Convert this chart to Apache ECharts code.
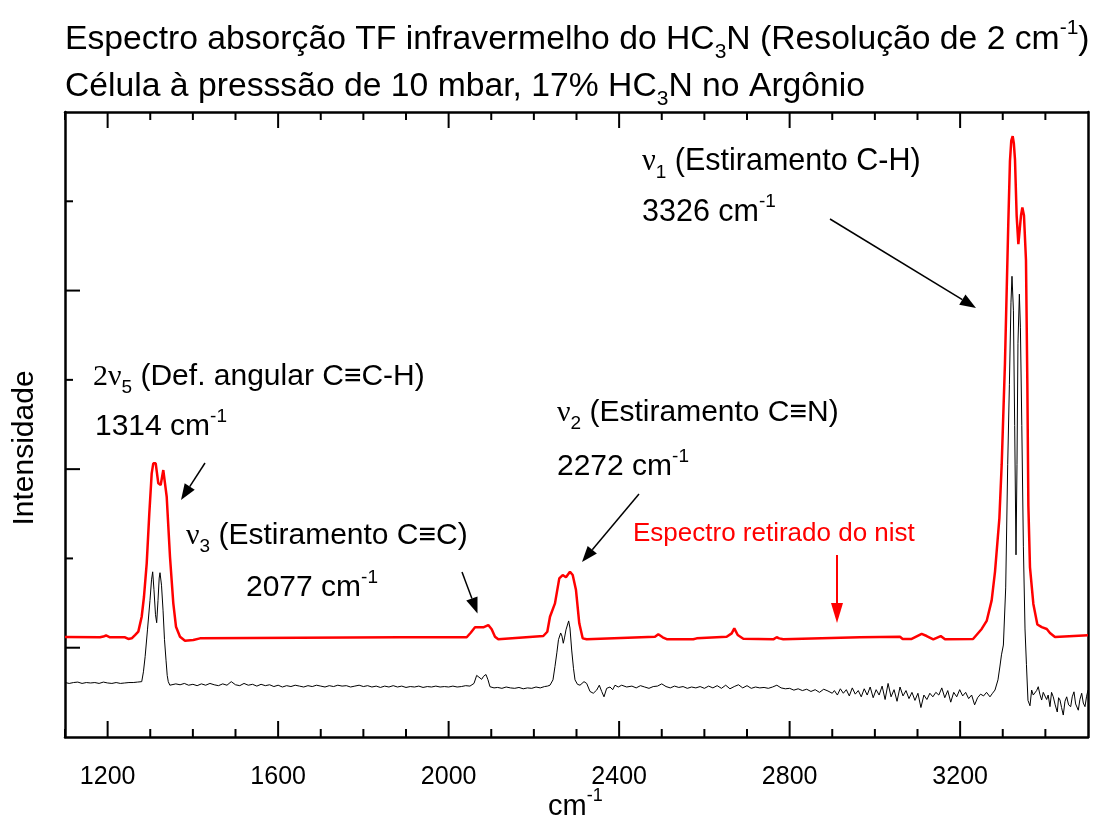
<!DOCTYPE html>
<html><head><meta charset="utf-8">
<script src="https://cdn.jsdelivr.net/npm/echarts@6/dist/echarts.min.js"></script>
<style>html,body{margin:0;padding:0;background:#fff}#c{width:1093px;height:821px}</style>
</head><body><div id="c"></div>
<script>
// ---------- data (wavenumber cm-1, intensity a.u.) ----------
const xTickLabels = [1200, 1600, 2000, 2400, 2800, 3200];
const xMinorTicks = [1100,1300,1400,1500,1700,1800,1900,2100,2200,2300,2500,2600,2700,2900,3000,3100,3300,3400];
const yMajorTicks = [1, 3, 5];
const yMinorTicks = [2, 4, 6];

// measured spectrum (black)
const blackLeft = [[1100,0.61],[1110,0.60],[1120,0.61],[1130,0.615],[1140,0.60],[1150,0.61],[1160,0.605],[1170,0.61],[1180,0.60],[1190,0.615],[1200,0.605],[1210,0.60],[1220,0.61],[1230,0.60],[1240,0.605],[1250,0.61],[1260,0.61],[1270,0.615],[1280,0.62]];
const black1314 = [[1284,0.73],[1288,0.90],[1293.5,1.20],[1299.4,1.53],[1303,1.76],[1305.7,1.85],[1308.7,1.65],[1312.3,1.37],[1315.1,1.28],[1318.2,1.53],[1321,1.78],[1322.9,1.84],[1326.4,1.70],[1330,1.42],[1333.4,1.09],[1337,0.86],[1339.8,0.69],[1342.3,0.62],[1346,0.58]];
const blackMid1 = [[1350,0.58],[1360,0.595],[1370,0.585],[1380,0.60],[1390,0.58],[1400,0.59],[1410,0.575],[1420,0.595],[1430,0.58],[1440,0.60],[1450,0.585],[1460,0.575],[1470,0.595],[1480,0.58],[1490,0.62],[1500,0.585],[1510,0.575],[1520,0.60],[1530,0.58],[1540,0.59],[1550,0.57],[1560,0.59],[1570,0.575],[1580,0.585],[1590,0.565],[1600,0.58],[1610,0.56],[1620,0.575],[1630,0.565],[1640,0.58],[1650,0.57],[1660,0.56],[1670,0.575],[1680,0.565],[1690,0.58],[1700,0.57],[1710,0.56],[1720,0.575],[1730,0.565],[1740,0.58],[1750,0.57],[1760,0.575],[1770,0.56],[1780,0.57],[1790,0.58],[1800,0.565],[1810,0.575],[1820,0.56],[1830,0.57],[1840,0.555],[1850,0.57],[1860,0.56],[1870,0.575],[1880,0.56],[1890,0.57],[1900,0.555],[1910,0.565],[1920,0.56],[1930,0.57],[1940,0.555],[1950,0.565],[1960,0.56],[1970,0.57],[1980,0.56],[1990,0.565],[2000,0.56],[2010,0.57],[2020,0.56],[2030,0.565],[2040,0.575]];
const black2077 = [[2050,0.57],[2059.5,0.60],[2065.8,0.69],[2071.2,0.67],[2077.5,0.646],[2082,0.68],[2087.6,0.70],[2092.4,0.64],[2097,0.563],[2106.5,0.55]];
const blackMid2 = [[2115,0.555],[2125,0.545],[2135,0.56],[2145,0.55],[2155,0.545],[2165,0.555],[2175,0.54],[2185,0.55],[2195,0.545],[2205,0.56],[2215,0.55],[2225,0.565],[2232,0.57]];
const black2272 = [[2237.8,0.58],[2244.8,0.64],[2249.5,0.79],[2254.1,0.95],[2257.7,1.09],[2262.9,1.165],[2265.9,1.13],[2269,1.05],[2271.8,1.11],[2275.3,1.20],[2281.6,1.30],[2284.7,1.22],[2288.7,0.974],[2292.9,0.77],[2296.5,0.64],[2302.3,0.59],[2308.2,0.58]];
const blackMid3 = [[2317.6,0.62],[2323.9,0.60],[2331.7,0.51],[2339.4,0.49],[2347.4,0.526],[2353.5,0.58],[2359.1,0.51],[2364.5,0.45],[2370.8,0.545],[2378.6,0.56],[2384.9,0.53],[2390.3,0.58],[2398,0.56],[2406,0.58],[2417.7,0.56],[2430,0.57],[2440,0.55],[2450,0.575],[2460,0.56],[2470,0.545],[2480,0.565],[2490,0.57],[2500,0.595],[2510,0.565],[2520,0.55],[2530,0.57],[2540,0.555],[2550,0.565],[2560,0.545],[2570,0.56],[2580,0.55],[2590,0.565],[2600,0.545],[2610,0.57],[2620,0.55],[2630,0.575],[2640,0.545],[2650,0.58],[2660,0.54],[2670,0.565],[2680,0.585],[2690,0.55],[2700,0.575],[2710,0.545],[2720,0.56],[2730,0.55],[2740,0.555],[2750,0.545],[2760,0.56],[2770,0.58],[2780,0.55],[2790,0.54],[2800,0.545],[2810,0.525],[2820,0.54],[2830,0.52],[2840,0.535],[2850,0.51],[2860,0.53],[2870,0.50],[2880,0.535],[2890,0.515],[2900,0.49]];
const blackNoisy = [[2905,0.52],[2912,0.47],[2919,0.54],[2926,0.49],[2933,0.53],[2940,0.46],[2947,0.55],[2954,0.48],[2961,0.52],[2968,0.45],[2975,0.54],[2982,0.47],[2989,0.56],[2996,0.44],[3003,0.53],[3010,0.47],[3017,0.57],[3024,0.42],[3031,0.60],[3038,0.45],[3045,0.53],[3052,0.40],[3059,0.56],[3066,0.46],[3073,0.52],[3080,0.43],[3087,0.50],[3094,0.41],[3101,0.49],[3108,0.33],[3115,0.47],[3122,0.42],[3129,0.49],[3136,0.45],[3143,0.50],[3150,0.47],[3157,0.55],[3164,0.44],[3171,0.52],[3178,0.39],[3185,0.50],[3192,0.45],[3199,0.53],[3206,0.46],[3213,0.50],[3220,0.43],[3227,0.47],[3234,0.36],[3241,0.44],[3248,0.48],[3255,0.46],[3262,0.50],[3270,0.45],[3276,0.49]];
const black3326 = [[3281.8,0.526],[3288.8,0.64],[3293.5,0.795],[3297,0.92],[3301.5,1.03],[3306.9,1.67],[3311.6,3.05],[3315.6,3.95],[3319.3,4.87],[3321.7,5.16],[3325,4.78],[3328,3.49],[3331.1,2.04],[3333.4,3.05],[3335.7,4.41],[3339,4.96],[3341.4,4.59],[3344.7,3.49],[3348.4,2.13],[3352.2,1.21],[3355.6,0.81],[3359.2,0.41]];
const blackRight = [[3363.9,0.35],[3367.8,0.526],[3371.5,0.47],[3375.6,0.45],[3379.5,0.52],[3383.3,0.563],[3387,0.48],[3391.3,0.414],[3395,0.50],[3399.1,0.49],[3403,0.42],[3406.5,0.47],[3410.8,0.34],[3414.5,0.50],[3418.5,0.45],[3423,0.36],[3427.9,0.28],[3431,0.44],[3434.3,0.414],[3438,0.33],[3442,0.246],[3446,0.40],[3450,0.45],[3454.5,0.36],[3459.4,0.34],[3463,0.45],[3467.1,0.506],[3471,0.37],[3477.2,0.30],[3481,0.42],[3485.2,0.49],[3489,0.38],[3492.9,0.34],[3496.5,0.45],[3500,0.526]];

// NIST spectrum (red)
const redLeft = [[1100,1.12],[1182.1,1.117],[1190,1.125],[1196.2,1.137],[1205.6,1.117],[1240.8,1.117],[1248.5,1.098],[1256.5,1.105],[1264.2,1.142],[1272,1.18]];
const red1314 = [[1279.9,1.347],[1285.3,1.571],[1291.7,1.945],[1297.8,2.505],[1303.4,2.953],[1307.1,3.065],[1312.8,3.065],[1318.9,2.841],[1324.5,2.822],[1330.6,2.99],[1334.6,3.009],[1338.6,2.691],[1346.3,2.019],[1354.1,1.497],[1360.4,1.235],[1369.8,1.123],[1381.5,1.078],[1401,1.086],[1416.7,1.105]];
const redMid = [[1885.9,1.117],[1979.8,1.117],[2042.4,1.117],[2051.8,1.168],[2061.9,1.229],[2081.3,1.229],[2093.1,1.254],[2101,1.206],[2108.8,1.123],[2116.5,1.094],[2222.1,1.131],[2231.5,1.179]];
const red2272 = [[2237.8,1.347],[2249.5,1.497],[2259.6,1.777],[2267.6,1.814],[2275.3,1.789],[2284.7,1.851],[2291.1,1.814],[2298.8,1.646],[2306.5,1.273],[2314.5,1.105],[2323.9,1.094]];
const redMid2 = [[2484.1,1.123],[2491.9,1.15],[2502.2,1.117],[2513,1.094],[2574,1.094],[2582,1.105],[2652.3,1.123],[2664.1,1.161],[2670.2,1.217],[2678.2,1.142],[2691.3,1.101],[2761.7,1.094],[2769.6,1.117],[2775.7,1.105],[2785.1,1.094],[2965,1.117],[3058.9,1.123],[3065.2,1.098],[3086.3,1.098],[3109.8,1.154],[3121.5,1.131],[3137,1.094],[3154.4,1.131],[3164.5,1.094],[3230.3,1.098]];
const red3326 = [[3250.6,1.21],[3262.3,1.30],[3274,1.53],[3281.8,1.85],[3292.1,2.45],[3297.5,3.05],[3305.2,4.19],[3313.2,5.79],[3316.9,6.45],[3320,6.68],[3323.3,6.73],[3326,6.65],[3328.7,6.47],[3332.6,5.84],[3336.6,5.52],[3339,5.50],[3342.8,5.84],[3346,5.93],[3349.8,5.84],[3354.5,5.34],[3357.7,3.96],[3360.1,2.59],[3363.9,1.90],[3371.8,1.49],[3381.2,1.26],[3391.5,1.23],[3403.3,1.21],[3410.8,1.165],[3422.5,1.12],[3500,1.14]];

const blackSpectrum = [].concat(blackLeft, black1314, blackMid1, black2077, blackMid2, black2272, blackMid3, blackNoisy, black3326, blackRight);
const redSpectrum = [].concat(redLeft, red1314, redMid, red2272, redMid2, red3326);

// ---------- styling helpers ----------
const SANS = "'Liberation Sans', Arial, sans-serif";
const SERIF = "'Liberation Serif', 'Times New Roman', serif";
function rich(fs, color) {
  const L = Math.round(fs * 1.34);
  return {
    t:   { fontSize: fs, fontFamily: SANS, lineHeight: L, fill: color },
    nu:  { fontSize: fs, fontFamily: SERIF, lineHeight: L, fill: color },
    sub: { fontSize: Math.round(fs * 0.62), fontFamily: SANS, lineHeight: Math.round(fs * 0.34), verticalAlign: 'bottom', fill: color },
    sup: { fontSize: Math.round(fs * 0.62), fontFamily: SANS, lineHeight: Math.round(fs * 0.62), verticalAlign: 'top', fill: color }
  };
}
function txt(x, y, text, fs, color) {
  return {
    type: 'text', x: x, y: y, silent: true,
    style: { text: text, rich: rich(fs, color || '#000'), fill: color || '#000', align: 'left', verticalAlign: 'middle', fontSize: fs, fontFamily: SANS }
  };
}
function arrow(x1, y1, x2, y2, color, lw, hl, hw) {
  const dx = x2 - x1, dy = y2 - y1, len = Math.sqrt(dx * dx + dy * dy);
  const ux = dx / len, uy = dy / len;
  const bx = x2 - ux * hl, by = y2 - uy * hl;
  const px = -uy * hw, py = ux * hw;
  return [
    { type: 'line', silent: true, shape: { x1: x1, y1: y1, x2: bx, y2: by }, style: { stroke: color, lineWidth: lw } },
    { type: 'polygon', silent: true, shape: { points: [[x2, y2], [bx + px, by + py], [bx - px, by - py]] }, style: { fill: color } }
  ];
}

const annotations = [
  txt(65, 40, '{t|Espectro absorção TF infravermelho do HC}{sub|3}{t|N (Resolução de 2 cm}{sup|-1}{t|)}', 33.7),
  txt(65, 87, '{t|Célula à presssão de 10 mbar, 17% HC}{sub|3}{t|N no Argônio}', 33.7),
  txt(93, 377, '{nu|2ν}{sub|5}{t| (Def. angular C≡C-H)}', 30),
  txt(95, 427, '{t|1314 cm}{sup|-1}', 30),
  txt(186, 536, '{nu|ν}{sub|3}{t| (Estiramento C≡C)}', 30),
  txt(246, 588, '{t|2077 cm}{sup|-1}', 30),
  txt(557, 413, '{nu|ν}{sub|2}{t| (Estiramento C≡N)}', 30),
  txt(557, 467, '{t|2272 cm}{sup|-1}', 30),
  txt(642, 162, '{nu|ν}{sub|1}{t| (Estiramento C-H)}', 30.5),
  txt(642, 213, '{t|3326 cm}{sup|-1}', 30.5),
  txt(633, 534, '{t|Espectro retirado do nist}', 26, '#ff0000'),
  txt(548, 807, '{t|cm}{sup|-1}', 29),
  { type: 'text', x: 25, y: 448, rotation: Math.PI / 2, silent: true,
    style: { text: 'Intensidade', fill: '#000', fontSize: 30, fontFamily: SANS, align: 'center', verticalAlign: 'middle' } }
].concat(
  arrow(205, 463, 181, 500, '#000', 1.5, 16, 6),
  arrow(462, 572, 477.5, 613.5, '#000', 1.5, 16, 6),
  arrow(639, 494, 582, 562, '#000', 1.5, 16, 6),
  arrow(830, 219, 976, 308, '#000', 1.5, 16, 6),
  arrow(837, 555, 837, 623, '#ff0000', 2, 20, 6)
);

const frameLine = { show: true, onZero: false, lineStyle: { color: '#000', width: 2.5 } };
const chart = echarts.init(document.getElementById('c'), null, { renderer: 'canvas' });
chart.setOption({
  animation: false,
  backgroundColor: '#fff',
  grid: { left: 65, right: 5, top: 112, bottom: 84, containLabel: false },
  xAxis: [
    { type: 'value', position: 'bottom', min: 1100, max: 3500, interval: 100,
      axisLine: frameLine, splitLine: { show: false }, axisTick: { show: false },
      axisLabel: { show: true, margin: 28, color: '#000', fontSize: 25, fontFamily: SANS,
        formatter: function (v) { return xTickLabels.indexOf(v) >= 0 ? String(v) : ''; } } },
    { type: 'value', position: 'top', min: 1100, max: 3500, interval: 100,
      axisLine: frameLine, splitLine: { show: false }, axisLabel: { show: false }, axisTick: { show: false } }
  ],
  yAxis: [
    { type: 'value', position: 'left', min: 0, max: 7, interval: 1,
      axisLine: frameLine, splitLine: { show: false }, axisLabel: { show: false }, axisTick: { show: false } },
    { type: 'value', position: 'right', min: 0, max: 7, interval: 1,
      axisLine: frameLine, splitLine: { show: false }, axisLabel: { show: false }, axisTick: { show: false } }
  ],
  series: [
    { name: 'HC3N medido', type: 'line', xAxisIndex: 0, yAxisIndex: 0, data: blackSpectrum,
      showSymbol: false, symbol: 'none', smooth: false, lineStyle: { color: '#000', width: 1 }, z: 3 },
    { name: 'NIST', type: 'line', xAxisIndex: 0, yAxisIndex: 0, data: redSpectrum,
      showSymbol: false, symbol: 'none', smooth: false, lineStyle: { color: '#ff0000', width: 2.5 }, z: 4 }
  ]
});

// inward tick marks placed through the axes' own scales
const rect = chart.getModel().getComponent('grid', 0).coordinateSystem.getRect();
const yBottom = rect.y + rect.height, yTop = rect.y, xLeft = rect.x;
const tickStyle = { stroke: '#000', lineWidth: 2 };
const ticks = [];
function xTick(v, len) {
  const px = chart.convertToPixel({ xAxisIndex: 0 }, v);
  ticks.push({ type: 'line', silent: true, shape: { x1: px, y1: yBottom, x2: px, y2: yBottom - len }, style: tickStyle });
  ticks.push({ type: 'line', silent: true, shape: { x1: px, y1: yTop, x2: px, y2: yTop + len }, style: tickStyle });
}
function yTick(v, len) {
  const py = chart.convertToPixel({ yAxisIndex: 0 }, v);
  ticks.push({ type: 'line', silent: true, shape: { x1: xLeft, y1: py, x2: xLeft + len, y2: py }, style: tickStyle });
}
xTickLabels.forEach(function (v) { xTick(v, 16); });
xMinorTicks.forEach(function (v) { xTick(v, 8); });
yMajorTicks.forEach(function (v) { yTick(v, 15); });
yMinorTicks.forEach(function (v) { yTick(v, 8); });

chart.setOption({ graphic: ticks.concat(annotations) });
</script></body></html>
